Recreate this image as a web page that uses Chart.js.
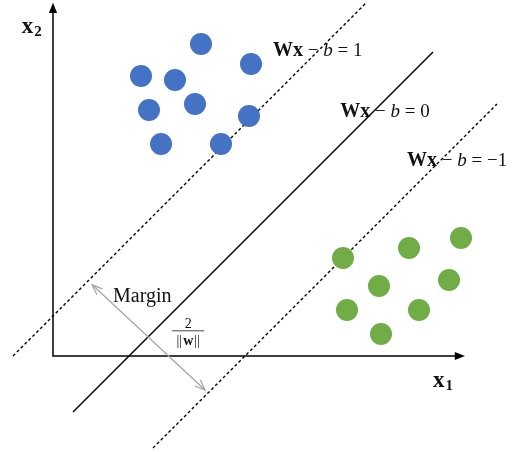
<!DOCTYPE html>
<html lang="en">
<head>
<meta charset="UTF-8">
<title>SVM margin</title>
<script src="https://cdn.jsdelivr.net/npm/chart.js"></script>
<style>
  html, body { margin: 0; padding: 0; background: #fff; }
  #wrap { width: 512px; height: 452px; }
</style>
</head>
<body>
<div id="wrap"><canvas id="svmChart" width="512" height="452"></canvas></div>
<script>
// samples of the two classes (feature space units)
const blueX = [3.7, 4.95, 2.2, 3.05, 2.4, 3.55, 4.9, 2.7, 4.2];
const blueY = [7.8, 7.3, 7.0, 6.9, 6.15, 6.3, 6.0, 5.3, 5.3];
const greenX = [7.25, 8.9, 10.2, 8.15, 9.9, 7.35, 9.15, 8.2];
const greenY = [2.45, 2.7, 2.95, 1.75, 1.9, 1.15, 1.15, 0.55];

// hyperplanes Wx - b = 1, 0, -1 (segment endpoints)
const planeRhs = ['1', '0', '\u22121'];
const planeX = [[-1.0, 7.85], [0.5, 9.5], [2.5, 11.1]];
const planeY = [[0.0, 8.85], [-1.4, 7.6], [-2.3, 6.3]];

// axis extents and margin arrow
const axisEnd = { x: 10.3, y: 8.83 };
const marginFrom = { x: 0.98, y: 1.78 };
const marginTo = { x: 3.8, y: -0.85 };

function pts(xs, ys) {
    return xs.map((x, i) => ({ x: x, y: ys[i] }));
}

const datasets = [
    {
        label: 'class +1',
        data: pts(blueX, blueY),
        backgroundColor: '#4472C4',
        borderWidth: 0,
        pointRadius: 11,
        pointHoverRadius: 11
    },
    {
        label: 'class -1',
        data: pts(greenX, greenY),
        backgroundColor: '#70AD47',
        borderWidth: 0,
        pointRadius: 11,
        pointHoverRadius: 11
    }
];

planeRhs.forEach((rhs, i) => {
    datasets.push({
        type: 'line',
        label: 'Wx - b = ' + rhs,
        data: pts(planeX[i], planeY[i]),
        borderColor: '#000',
        borderWidth: i === 1 ? 1.4 : 1.4,
        borderDash: i === 1 ? [] : [3, 2.5],
        pointRadius: 0,
        fill: false
    });
});

function arrowHead(ctx, x1, y1, x2, y2, size, filled) {
    const a = Math.atan2(y2 - y1, x2 - x1);
    ctx.beginPath();
    ctx.moveTo(x2 - size * Math.cos(a - 0.38), y2 - size * Math.sin(a - 0.38));
    ctx.lineTo(x2, y2);
    ctx.lineTo(x2 - size * Math.cos(a + 0.38), y2 - size * Math.sin(a + 0.38));
    if (filled) { ctx.closePath(); ctx.fill(); } else { ctx.stroke(); }
}

function drawRuns(ctx, x, y, runs) {
    runs.forEach(r => {
        ctx.font = r.font;
        ctx.fillText(r.t, x, y + (r.dy || 0));
        x += ctx.measureText(r.t).width + (r.gap || 0);
    });
}

const serif = '"Liberation Serif", "DejaVu Serif", serif';

const decorations = {
    id: 'decorations',
    afterDatasetsDraw(chart) {
        const ctx = chart.ctx;
        const sx = chart.scales.x, sy = chart.scales.y;
        const px = v => sx.getPixelForValue(v);
        const py = v => sy.getPixelForValue(v);
        ctx.save();

        // axes with arrows
        ctx.strokeStyle = '#000';
        ctx.fillStyle = '#000';
        ctx.lineWidth = 1.5;
        ctx.beginPath();
        ctx.moveTo(px(0), py(axisEnd.y) + 4);
        ctx.lineTo(px(0), py(0));
        ctx.lineTo(px(axisEnd.x) - 4, py(0));
        ctx.stroke();
        arrowHead(ctx, px(0), py(0), px(0), py(axisEnd.y), 11, true);
        arrowHead(ctx, px(0), py(0), px(axisEnd.x), py(0), 11, true);

        // margin arrow
        ctx.strokeStyle = '#a6a6a6';
        ctx.lineWidth = 1.3;
        ctx.beginPath();
        ctx.moveTo(px(marginFrom.x), py(marginFrom.y));
        ctx.lineTo(px(marginTo.x), py(marginTo.y));
        ctx.stroke();
        arrowHead(ctx, px(marginTo.x), py(marginTo.y), px(marginFrom.x), py(marginFrom.y), 11, false);
        arrowHead(ctx, px(marginFrom.x), py(marginFrom.y), px(marginTo.x), py(marginTo.y), 11, false);

        // texts
        ctx.fillStyle = '#111';
        ctx.textBaseline = 'alphabetic';
        ctx.textAlign = 'left';

        drawRuns(ctx, px(-0.78), py(8.08), [
            { t: 'x', font: 'bold 23px ' + serif, gap: 1 },
            { t: '2', font: 'bold 15px ' + serif, dy: 3 }
        ]);
        drawRuns(ctx, px(9.5), py(-0.78), [
            { t: 'x', font: 'bold 23px ' + serif, gap: 1 },
            { t: '1', font: 'bold 15px ' + serif, dy: 3 }
        ]);

        const labelPos = [[5.5, 7.5], [7.18, 5.98], [8.85, 4.75]];
        planeRhs.forEach((rhs, i) => {
            drawRuns(ctx, px(labelPos[i][0]), py(labelPos[i][1]), [
                { t: 'Wx', font: 'bold 20px ' + serif },
                { t: ' \u2212 ', font: '19px ' + serif },
                { t: 'b', font: 'italic 19px ' + serif },
                { t: ' = ' + rhs, font: '19px ' + serif }
            ]);
        });

        ctx.font = '20px ' + serif;
        ctx.fillText('Margin', px(1.5), py(1.35));

        // 2 / ||w||
        const cx = px(3.38), by = py(0.63);
        ctx.textAlign = 'center';
        ctx.font = '14px ' + serif;
        ctx.fillText('2', cx, by - 3);
        ctx.strokeStyle = '#111';
        ctx.lineWidth = 0.8;
        ctx.beginPath();
        ctx.moveTo(cx - 16, by);
        ctx.lineTo(cx + 16, by);
        ctx.stroke();
        ctx.textAlign = 'left';
        const parts = [
            { t: '||', font: '14px ' + serif, gap: 1 },
            { t: 'w', font: 'bold 14px ' + serif, gap: 1 },
            { t: '||', font: '14px ' + serif }
        ];
        let w = 0;
        parts.forEach(p => { ctx.font = p.font; w += ctx.measureText(p.t).width + (p.gap || 0); });
        drawRuns(ctx, cx - w / 2, by + 14, parts);

        ctx.restore();
    }
};

new Chart(document.getElementById('svmChart').getContext('2d'), {
    type: 'scatter',
    data: { datasets: datasets },
    options: {
        responsive: false,
        animation: false,
        layout: { padding: 0, autoPadding: false },
        plugins: {
            legend: { display: false },
            tooltip: { enabled: false }
        },
        scales: {
            x: { type: 'linear', min: -1.325, max: 11.475, display: false },
            y: { type: 'linear', min: -2.4, max: 8.9, display: false }
        },
        elements: { line: { tension: 0 } },
        clip: false
    },
    plugins: [decorations]
});
</script>
</body>
</html>
